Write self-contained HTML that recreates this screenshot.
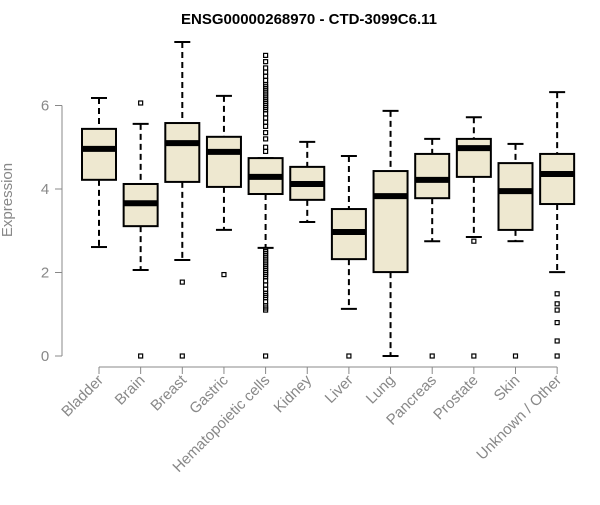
<!DOCTYPE html>
<html><head><meta charset="utf-8"><style>
body{margin:0;background:#fff}
svg text{font-family:"Liberation Sans",sans-serif}
</style></head><body>
<svg id="chart" width="600" height="500" xmlns="http://www.w3.org/2000/svg">
<text x="309" y="24" text-anchor="middle" font-size="15" font-weight="bold">ENSG00000268970 - CTD-3099C6.11</text>
<text x="12" y="200" transform="rotate(-90 12 200)" text-anchor="middle" font-size="15" fill="#888">Expression</text>
<g id="plot"></g>
</svg>
<script>
const categories=["Bladder","Brain","Breast","Gastric","Hematopoietic cells","Kidney","Liver","Lung","Pancreas","Prostate","Skin","Unknown / Other"];
const whiskerLow=[2.61,2.06,2.3,3.02,2.59,3.21,1.13,0,2.75,2.85,2.75,2.01];
const q1=[4.22,3.11,4.17,4.05,3.88,3.74,2.32,2.01,3.78,4.29,3.02,3.64];
const medians=[4.96,3.66,5.1,4.89,4.29,4.12,2.97,3.83,4.22,4.98,3.95,4.36];
const q3=[5.44,4.12,5.58,5.25,4.74,4.53,3.52,4.43,4.84,5.2,4.62,4.84];
const whiskerHigh=[6.18,5.56,7.52,6.23,4.74,5.13,4.79,5.87,5.2,5.72,5.08,6.32];
const outliers=[[],[6.06,0],[1.77,0],[1.95],
 [7.2,7.05,6.9,6.8,6.7,6.6,6.5,6.45,6.4,6.35,6.3,6.25,6.2,6.15,6.1,6.05,6.0,5.95,5.9,5.8,5.7,5.6,5.5,5.35,5.2,5.0,4.9,2.55,2.5,2.45,2.4,2.35,2.3,2.25,2.2,2.15,2.1,2.05,2.0,1.95,1.9,1.8,1.7,1.6,1.5,1.45,1.4,1.3,1.2,1.15,1.1,0],
 [],[0],[],[0],[2.75,0],[0],[1.49,1.25,1.1,0.8,0.36,0]];
const yTicks=[0,2,4,6];
const NS="http://www.w3.org/2000/svg";
const g=document.getElementById('plot');
const y=v=>356-v*41.75;
const x=i=>99+i*41.65;
function mk(t,a){const e=document.createElementNS(NS,t);for(const k in a)e.setAttribute(k,a[k]);g.appendChild(e);return e;}
let e=mk('line',{x1:62,x2:62,y1:y(0),y2:y(6),stroke:'#888'});


yTicks.forEach(v=>{
 let t=mk('line',{x1:55,x2:62,y1:y(v),y2:y(v),stroke:'#888'});
 
 
 let l=mk('text',{x:45,y:y(v)+5,'text-anchor':'middle','font-size':15,fill:'#888'});
 l.textContent=v;
 
 
});
e=mk('line',{x1:x(0),x2:x(categories.length-1),y1:367,y2:367,stroke:'#888'});


categories.forEach((c,i)=>{
 const cx=x(i),w=17;
 let t=mk('line',{x1:cx,x2:cx,y1:367,y2:374,stroke:'#888'});
 
 
 let l=mk('text',{x:cx+5,y:381,'text-anchor':'end','font-size':15,fill:'#888',transform:`rotate(-45 ${cx+5} 381)`});
 l.textContent=c;
 
 
 let wl=mk('line',{x1:cx,x2:cx,y1:y(whiskerHigh[i]),y2:y(q3[i]),stroke:'#000','stroke-width':2,'stroke-dasharray':'6,4'});
 
 
 let wl2=mk('line',{x1:cx,x2:cx,y1:y(q1[i]),y2:y(whiskerLow[i]),stroke:'#000','stroke-width':2,'stroke-dasharray':'6,4'});
 
 
 let c1=mk('line',{x1:cx-8,x2:cx+8,y1:y(whiskerHigh[i]),y2:y(whiskerHigh[i]),stroke:'#000','stroke-width':2});
 
 
 let c2=mk('line',{x1:cx-8,x2:cx+8,y1:y(whiskerLow[i]),y2:y(whiskerLow[i]),stroke:'#000','stroke-width':2});
 
 
 let b=mk('rect',{x:cx-w,y:y(q3[i]),width:2*w,height:y(q1[i])-y(q3[i]),fill:'#EEE8D0',stroke:'#000','stroke-width':2});
 
 
 let m=mk('line',{x1:cx-w,x2:cx+w,y1:y(medians[i]),y2:y(medians[i]),stroke:'#000','stroke-width':6});
 
 
 outliers[i].forEach(v=>{
  let o=mk('rect',{x:cx-2,y:y(v)-2,width:4,height:4,fill:'none',stroke:'#000','stroke-width':1.2});
  
  
 });
});
</script>
</body></html>
